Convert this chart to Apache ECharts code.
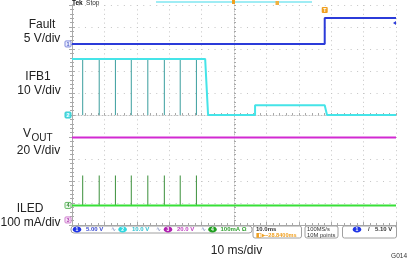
<!DOCTYPE html>
<html>
<head>
<meta charset="utf-8">
<script src="https://cdn.jsdelivr.net/npm/echarts@6/dist/echarts.min.js"></script>
<style>html,body{margin:0;padding:0;background:#fff}#c{width:408px;height:260px}</style>
</head>
<body>
<div id="c"></div>
<script>
// ---- data (time in ms, 10 ms/div) ----
const faultTime  = [0, 78.0, 78.0, 100];
const faultVolts = [0, 0, 5.9, 5.9];               // 5 V/div
const ifb1Time   = [0, 41.1, 42.0, 56.5, 56.5, 78.0, 78.7, 100];
const ifb1Volts  = [25.5, 25.5, 0, 0, 4.4, 4.4, 0, 0]; // 10 V/div
const pulseTimes = [3.3, 8.4, 13.4, 18.3, 23.4, 28.5, 33.4, 38.4];
const ifb1PulseLow = 0;                             // V
const voutTime   = [0, 100];
const voutVolts  = [75, 75];                        // 20 V/div
const iledTime   = [0, 100];
const iledMilliamps = [0, 0];                       // 100 mA/div
const iledPulsePeak = 136;                          // mA
const xTicks = [0, 10, 20, 30, 40, 50, 60, 70, 80, 90, 100];

// channel settings (scale per div, ground position in divs)
const ch = {
  fault: {scale: 5,   ground: 8.23},
  ifb1:  {scale: 10,  ground: 5.0},
  vout:  {scale: 20,  ground: 0.23},
  iled:  {scale: 100, ground: 0.89}
};
const toDiv = (c, v) => c.ground + v / c.scale;

const chart = echarts.init(document.getElementById('c'), null, {renderer: 'canvas'});
const GRID = {left: 72, top: 5, width: 324, height: 220};
const gc = '#a9a9a9';

function axisCommon(extra) {
  return Object.assign({
    min: 0, axisLabel: {show: false},
    axisLine: {show: true, lineStyle: {color: gc, width: 1}},
    axisTick: {show: true, inside: true, length: 3, lineStyle: {color: gc}},
    minorTick: {show: true, splitNumber: 5, length: 2, lineStyle: {color: gc}},
    splitLine: {show: false}
  }, extra);
}

const pulseLines = (c, lowV, highV) => {
  const out = [];
  pulseTimes.forEach(t => { out.push([t, toDiv(c, highV)], [t, toDiv(c, lowV)], [t, '-']); });
  return out;
};

const option = {
  animation: false,
  backgroundColor: '#ffffff',
  grid: Object.assign({containLabel: false}, GRID),
  xAxis: [
    axisCommon({type: 'value', max: 100, interval: 10, position: 'bottom',
      splitLine: {show: true, lineStyle: {color: '#c4c4c4', width: 1, type: [1, 3.4]}}}),
    axisCommon({type: 'value', max: 100, interval: 10, position: 'top'}),
    axisCommon({type: 'value', max: 100, interval: 10, position: 'bottom', offset: -110,
      axisLine: {show: true, lineStyle: {color: '#bdbdbd', width: 1, type: [1, 2]}},
      axisTick: {show: true, inside: true, length: 2, lineStyle: {color: gc}},
      minorTick: {show: true, splitNumber: 5, length: 2, lineStyle: {color: gc}}})
  ],
  yAxis: [
    axisCommon({type: 'value', max: 10, interval: 1, position: 'left',
      splitLine: {show: true, lineStyle: {color: '#c4c4c4', width: 1, type: [1, 5.48]}}}),
    axisCommon({type: 'value', max: 10, interval: 1, position: 'right'}),
    axisCommon({type: 'value', max: 10, interval: 1, position: 'left', offset: -162,
      axisLine: {show: true, lineStyle: {color: '#bdbdbd', width: 1, type: [1, 2]}},
      axisTick: {show: true, inside: true, length: 2, lineStyle: {color: gc}},
      minorTick: {show: true, splitNumber: 5, length: 2, lineStyle: {color: gc}}})
  ],
  series: [
    {type: 'line', symbol: 'none', silent: true, lineStyle: {color: '#d22ad2', width: 2},
      data: voutTime.map((t, i) => [t, toDiv(ch.vout, voutVolts[i])])},
    {type: 'line', symbol: 'none', silent: true, lineStyle: {color: '#3a9e9e', width: 1},
      data: pulseLines(ch.ifb1, ifb1PulseLow, ifb1Volts[0])},
    {type: 'line', symbol: 'none', silent: true, lineStyle: {color: '#45e4e8', width: 2},
      data: ifb1Time.map((t, i) => [t, toDiv(ch.ifb1, ifb1Volts[i])])},
    {type: 'line', symbol: 'none', silent: true, lineStyle: {color: '#3b8f3b', width: 1},
      data: pulseLines(ch.iled, iledMilliamps[0], iledPulsePeak)},
    {type: 'line', symbol: 'none', silent: true, lineStyle: {color: '#38e038', width: 2},
      data: iledTime.map((t, i) => [t, toDiv(ch.iled, iledMilliamps[i])])},
    {type: 'line', symbol: 'none', silent: true, lineStyle: {color: '#2b3bd9', width: 2},
      data: faultTime.map((t, i) => [t, toDiv(ch.fault, faultVolts[i])])}
  ]
};
chart.setOption(option);

// ---- annotation graphics ----
const F = '"Liberation Sans", Arial, sans-serif';
function txt(x, y, text, size, color, align, weight) {
  return {type: 'text', silent: true, z: 100, style: {
    x: x, y: y, text: text, fill: color || '#222',
    font: (weight || 'normal') + ' ' + size + 'px ' + F,
    textAlign: align || 'left', align: align || 'left',
    textVerticalAlign: 'middle', verticalAlign: 'middle'}};
}
function rect(x, y, w, h, fill, stroke, r) {
  return {type: 'rect', silent: true, z: 90, shape: {x: x, y: y, width: w, height: h, r: r || 0},
    style: {fill: fill, stroke: stroke || null, lineWidth: 1}};
}
function ell(cx, cy, color, label) {
  return [{type: 'ellipse', silent: true, z: 95, shape: {cx: cx, cy: cy, rx: 4.3, ry: 2.9}, style: {fill: color}},
          txt(cx, cy + 0.3, label, 5, '#fff', 'center', 'bold')];
}
const g = [];
// left labels
g.push(txt(42, 25, 'Fault', 12, '#222', 'center'));
g.push(txt(42, 39, '5 V/div', 12, '#222', 'center'));
g.push(txt(38, 77, 'IFB1', 12, '#222', 'center'));
g.push(txt(39, 91, '10 V/div', 12, '#222', 'center'));
g.push(txt(23, 134, 'V', 12, '#222', 'left'));
g.push(txt(31.5, 138, 'OUT', 10, '#222', 'left'));
g.push(txt(38.5, 151, '20 V/div', 12, '#222', 'center'));
g.push(txt(30, 209, 'ILED', 12, '#222', 'center'));
g.push(txt(30.5, 223, '100 mA/div', 12, '#222', 'center'));
// bottom text
g.push(txt(236.5, 251, '10 ms/div', 12, '#222', 'center'));
g.push(txt(407, 256, 'G014', 6.5, '#333', 'right'));
// top
g.push({type: 'text', silent: true, z: 100, style: {x: 72, y: 3, text: '{a|Tek} {b|Stop}',
  textVerticalAlign: 'middle', verticalAlign: 'middle',
  rich: {a: {font: 'bold 6.5px ' + F, fill: '#111'}, b: {font: '6.5px ' + F, fill: '#333'}}}});
g.push({type: 'line', silent: true, z: 90, shape: {x1: 156, y1: 2, x2: 312, y2: 2},
  style: {stroke: '#7fe6f0', lineWidth: 1.5}});
g.push(rect(232, 0, 3, 4, '#f0a020'));
g.push(rect(275.5, 1, 3.5, 4, '#f0b040'));
// ground markers & trigger
const px = (t, d) => chart.convertToPixel({gridIndex: 0}, [t, d]);
const gm = (c, label, fill, stroke, tc) => {
  const p = px(0, c.ground);
  g.push(rect(65, p[1] - 3, 6, 6, fill, stroke, 1));
  g.push(txt(68, p[1] + 0.3, label, 5.5, tc, 'center', 'bold'));
};
gm(ch.fault, '1', '#eef0ff', '#7d88dd', '#5060c8');
gm(ch.ifb1, '2', '#55dde8', '#3cc', '#ffffff');
gm(ch.iled, '4', '#eefcee', '#62b862', '#3a8a3a');
gm(ch.vout, '3', '#fbeefb', '#cc7acc', '#b040b0');
const trg = px(faultTime[1], 0);
g.push(rect(trg[0] - 3, 7, 6, 6, '#f0a020', null, 1));
g.push(txt(trg[0], 10.3, 'T', 5, '#fff', 'center', 'bold'));
const lvl = px(100, toDiv(ch.fault, 5.1));
g.push({type: 'polygon', silent: true, z: 95, shape: {points: [[lvl[0] - 3, lvl[1] + 1.5], [lvl[0], lvl[1] - 0.5], [lvl[0], lvl[1] + 3.5]]},
  style: {fill: '#2b3bd9'}});
// status bar
g.push(rect(71, 226, 181, 7, '#fff', '#a0a0a0', 3));
g.push(...ell(77, 229.5, '#1f34e6', '1'));
g.push(txt(86, 229.7, '5.00 V', 6, '#3848d0', 'left', 'bold'));
g.push(txt(110.5, 229.7, '∿', 6, '#7080b8', 'left'));
g.push(...ell(122.6, 229.5, '#30d8e0', '2'));
g.push(txt(132, 229.7, '10.0 V', 6, '#30c0d0', 'left', 'bold'));
g.push(txt(155.5, 229.7, '∿', 6, '#7080b8', 'left'));
g.push(...ell(168, 229.5, '#b020b0', '3'));
g.push(txt(177, 229.7, '20.0 V', 6, '#c040c0', 'left', 'bold'));
g.push(txt(200.5, 229.7, '∿', 6, '#7080b8', 'left'));
g.push(...ell(212.5, 229.5, '#20a020', '4'));
g.push(txt(220.5, 229.7, '100mA Ω', 6, '#30a030', 'left', 'bold'));
g.push(rect(253, 226, 48.5, 12, '#fff', '#a0a0a0', 2));
g.push(txt(256, 229.6, '10.0ms', 6, '#333', 'left', 'bold'));
g.push(txt(256, 235.4, '◧▸−28.8400ms', 5.6, '#f0a020', 'left', 'bold'));
g.push(rect(305, 226, 33, 12, '#fff', '#a0a0a0', 2));
g.push(txt(307, 229.6, '100MS/s', 5.8, '#333', 'left'));
g.push(txt(307, 235.4, '10M points', 5.8, '#333', 'left'));
g.push(rect(342.5, 226, 54, 12, '#fff', '#a0a0a0', 2));
g.push(...ell(357, 229.5, '#1f34e6', '1'));
g.push(txt(368, 229.7, '/', 6, '#333', 'left', 'bold'));
g.push(txt(375, 229.7, '5.10 V', 6, '#333', 'left', 'bold'));
chart.setOption({graphic: {elements: g}});
</script>
</body>
</html>
